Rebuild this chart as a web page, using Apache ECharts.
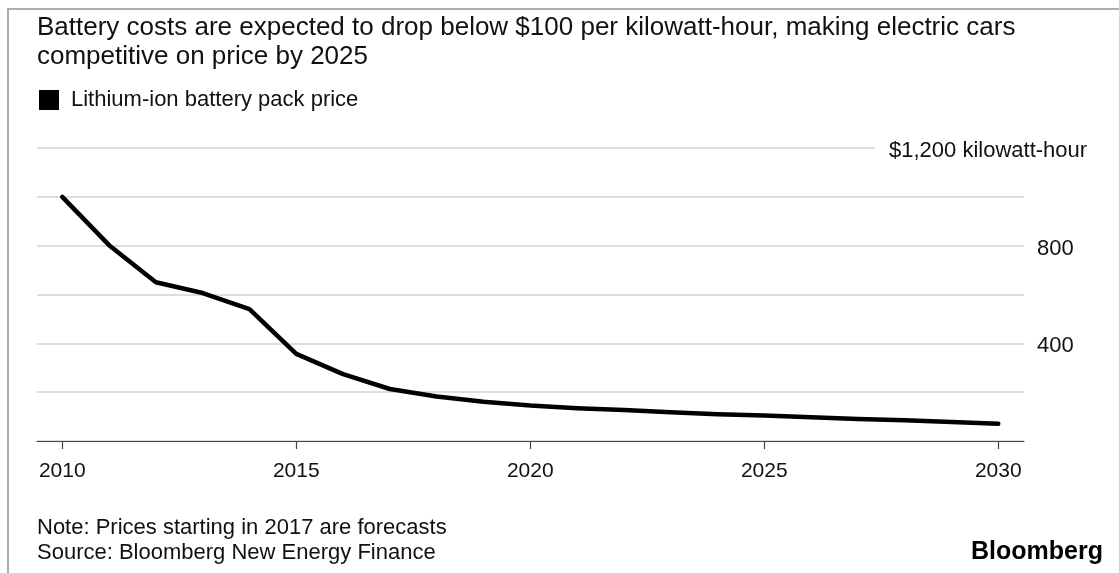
<!DOCTYPE html>
<html>
<head>
<meta charset="utf-8">
<script src="https://cdn.jsdelivr.net/npm/echarts@6/dist/echarts.min.js"></script>
<style>
  html, body { margin: 0; padding: 0; background: #fff; }
  #chart { width: 1119px; height: 573px; }
</style>
</head>
<body>
<div id="chart"></div>
<script>
// Lithium-ion battery pack price, $ per kilowatt-hour (2017 onward are forecasts)
const years = [2010, 2011, 2012, 2013, 2014, 2015, 2016, 2017, 2018, 2019, 2020,
               2021, 2022, 2023, 2024, 2025, 2026, 2027, 2028, 2029, 2030];
const prices = [1000, 802, 650, 606, 540, 357, 274, 213, 182, 161, 145,
                134, 127, 118, 110, 104, 97, 90, 85, 78, 71];
const xTicks = [2010, 2015, 2020, 2025, 2030];
const yLabelValues = [400, 800];
const topLabel = '$1,200 kilowatt-hour';
const titleLines = [
  'Battery costs are expected to drop below $100 per kilowatt-hour, making electric cars',
  'competitive on price by 2025'
];
const seriesName = 'Lithium-ion battery pack price';
const noteLines = [
  'Note: Prices starting in 2017 are forecasts',
  'Source: Bloomberg New Energy Finance'
];
const brand = 'Bloomberg';

const FONT = '"Liberation Sans", Arial, Helvetica, sans-serif';
const TEXT = '#111';

const chart = echarts.init(document.getElementById('chart'), null, { renderer: 'canvas' });

const option = {
  backgroundColor: '#fff',
  animation: false,
  title: {
    text: titleLines.join('\n'),
    left: 32,
    top: 8,
    textStyle: { fontFamily: FONT, fontSize: 26, lineHeight: 29, fontWeight: 'normal', color: TEXT }
  },
  legend: {
    left: 34,
    top: 84,
    icon: 'rect',
    itemWidth: 20,
    itemHeight: 20,
    selectedMode: false,
    textStyle: { fontFamily: FONT, fontSize: 22, color: TEXT, padding: [0, 0, 0, 7] },
    data: [{ name: seriesName, itemStyle: { color: '#000' } }]
  },
  grid: { left: 37, right: 95, top: 148, bottom: 132, containLabel: false },
  xAxis: {
    type: 'value',
    min: 2009.46,
    max: 2030.55,
    axisLine: { show: true, lineStyle: { color: '#444', width: 1.2 } },
    axisTick: { show: true, length: 8, customValues: xTicks, lineStyle: { color: '#444', width: 1.2 } },
    axisLabel: {
      customValues: xTicks,
      margin: 20,
      fontFamily: FONT, fontSize: 21, color: TEXT,
      formatter: v => String(v)
    },
    splitLine: { show: false }
  },
  yAxis: {
    type: 'value',
    position: 'right',
    min: 0,
    max: 1200,
    interval: 200,
    axisLine: { show: false },
    axisTick: { show: false },
    axisLabel: {
      margin: 13,
      fontFamily: FONT, fontSize: 22, color: TEXT,
      formatter: v => (yLabelValues.includes(v) ? '{v|' + v + '}' : ''),
      rich: { v: { fontFamily: FONT, fontSize: 22, color: TEXT, padding: [6, 0, 0, 0] } }
    },
    splitLine: { show: true, lineStyle: { color: '#dedede', width: 2 } }
  },
  series: [{
    name: seriesName,
    type: 'line',
    data: years.map((y, i) => [y, prices[i]]),
    showSymbol: false,
    symbol: 'none',
    color: '#000',
    lineStyle: { color: '#000', width: 4.5, cap: 'round', join: 'round' },
    z: 5
  }]
};

chart.setOption(option);

// Top gridline label: sits on the 1200 line, masking its right end
const topPt = chart.convertToPixel({ gridIndex: 0 }, [2030.55, 1200]);
const gridRight = topPt[0];

chart.setOption({
  graphic: [
    // frame along the top and left edges
    {
      type: 'polyline',
      shape: { points: [[8, 573], [8, 9], [1119, 9]] },
      style: { stroke: '#adadad', lineWidth: 2, fill: null },
      silent: true
    },
    {
      type: 'text',
      x: gridRight - 149,
      y: topPt[1] + 3,
      z: 10,
      style: {
        text: topLabel,
        font: '22px ' + FONT,
        fill: TEXT,
        align: 'left',
        verticalAlign: 'middle',
        backgroundColor: '#fff',
        padding: [2, 30, 2, 14]
      }
    },
    {
      type: 'text',
      x: 37,
      y: 515,
      style: {
        text: noteLines.join('\n'),
        font: '22px ' + FONT,
        lineHeight: 25,
        fill: TEXT,
        align: 'left',
        verticalAlign: 'top'
      }
    },
    {
      type: 'text',
      x: 1103,
      y: 552,
      style: {
        text: brand,
        font: 'bold 25px ' + FONT,
        fill: '#000',
        align: 'right',
        verticalAlign: 'middle'
      }
    }
  ]
});
</script>
</body>
</html>
